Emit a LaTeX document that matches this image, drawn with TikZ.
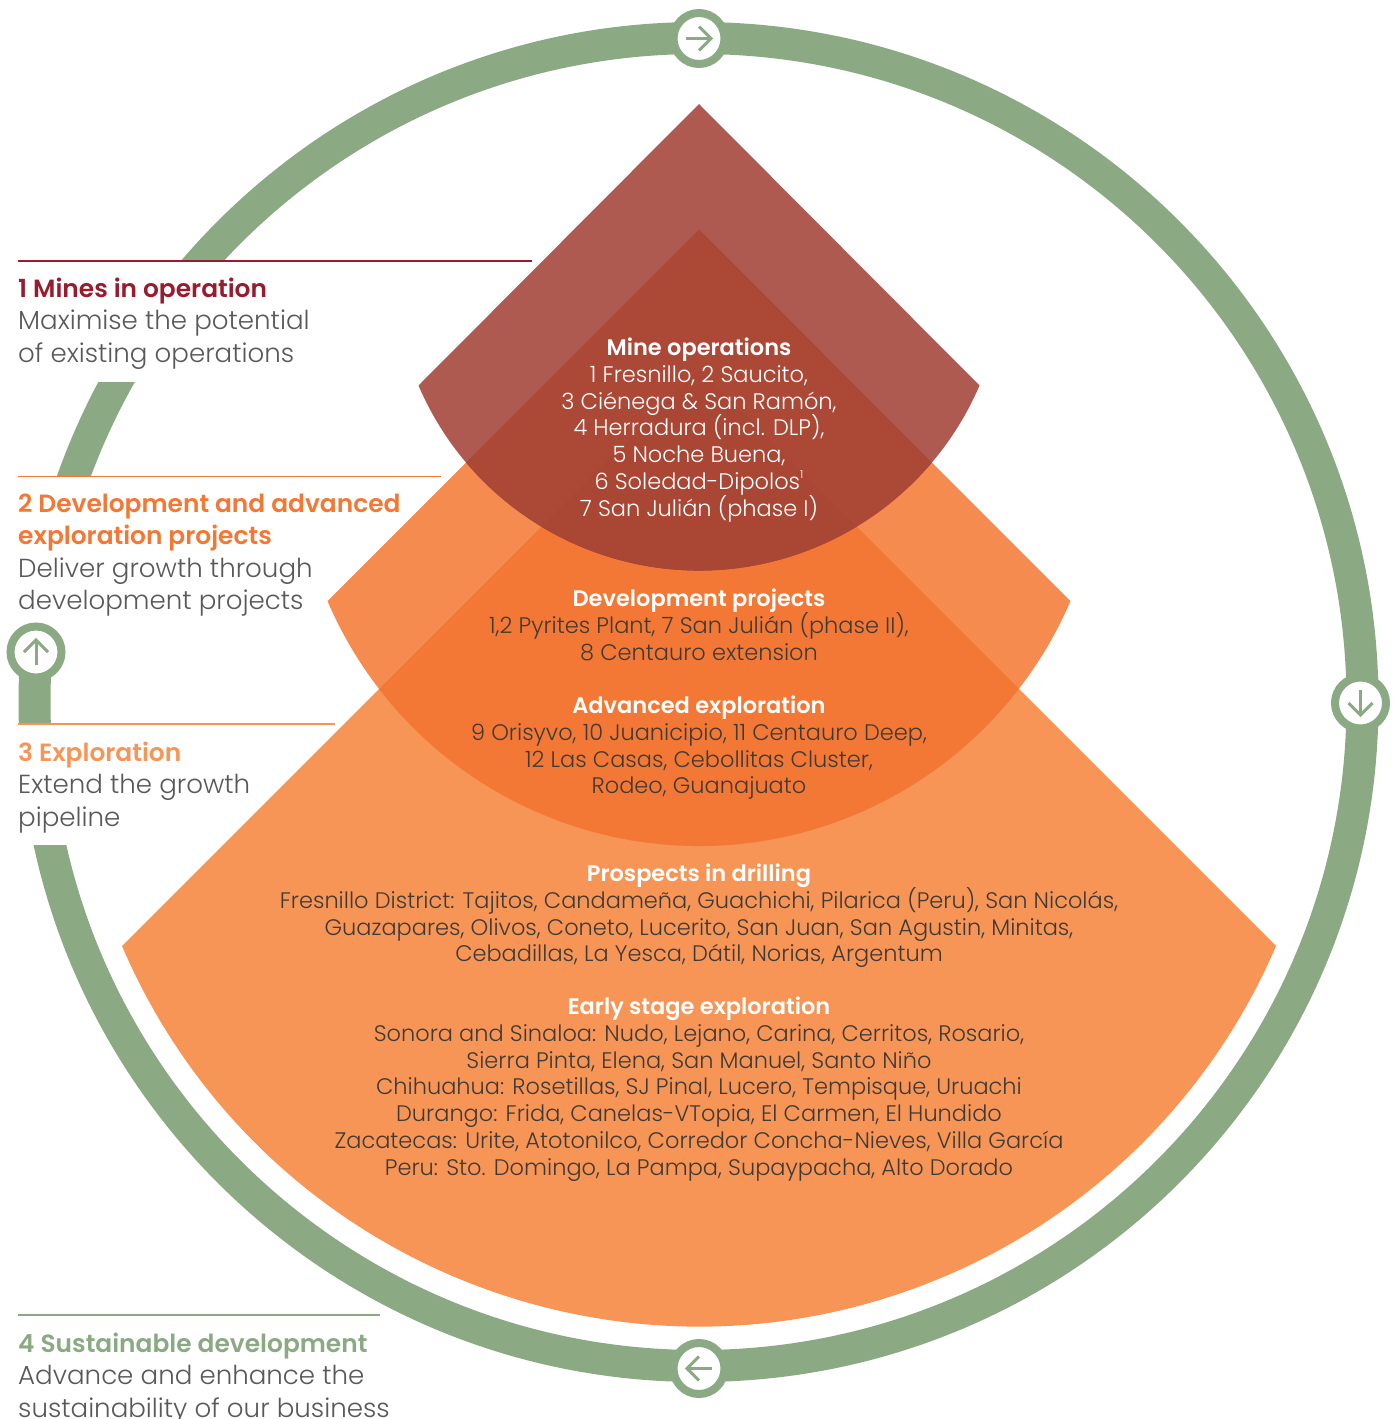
\documentclass[tikz,border=0pt]{standalone}
\usepackage{fontspec}
\setmainfont{Poppins}[UprightFont=* Light,BoldFont=* SemiBold]
\definecolor{ringgreen}{HTML}{8BAA84}
\definecolor{cA}{HTML}{AE5A51}
\definecolor{cAB}{HTML}{AB4836}
\definecolor{cABC}{HTML}{A94634}
\definecolor{cB}{HTML}{F68B50}
\definecolor{cBC}{HTML}{F47835}
\definecolor{cC}{HTML}{F79556}
\definecolor{titlered}{HTML}{981B2E}
\definecolor{bodygrey}{HTML}{58595B}
\definecolor{inkdark}{HTML}{3F3A36}
\newcommand\shapeA{(699,104) -- (418.5,385.5) arc[start angle=203.2,end angle=336.8,radius=305.2pt] -- cycle}
\newcommand\shapeB{(699,229.5) -- (327.5,601) arc[start angle=203.2,end angle=336.8,radius=404.2pt] -- cycle}
\newcommand\shapeC{(699,369) -- (122,946) arc[start angle=203.2,end angle=336.8,radius=627.8pt] -- cycle}
\newcommand\ringglyph[2]{\begin{scope}[shift={(#1)},rotate=#2]
\draw[glyphline] (-13,0) -- (12,0);
\draw[glyphline] (0,-12) -- (12,0) -- (0,12);
\end{scope}}
\newcommand\sidetitle[2]{\textcolor{#1}{\fontsize{24.9}{32.5}\selectfont\bfseries #2}}
\newcommand\tightlines{\lineskiplimit=-50pt\relax}
\newcommand\sidefont{\fontsize{26.1}{32.5}\selectfont\tightlines}
\newcommand\blockfont{\fontsize{22.48}{26.7}\selectfont\tightlines}
\tikzset{
  ringnode/.style={circle,draw=ringgreen,fill=white,line width=8pt,minimum size=51pt,inner sep=0pt},
  glyphline/.style={draw=ringgreen,line width=3pt},
  rulekey/.style={line width=1.8pt},
  masking/.style={fill=white,draw=none},
  sidetext/.style={anchor=north west,inner sep=0pt,align=left,text=bodygrey,font=\sidefont},
  blocktext/.style={anchor=north,inner sep=0pt,align=center,font=\blockfont},
}
\begin{document}
\begin{tikzpicture}[x=1pt,y=-1pt]
\useasboundingbox (0,0) rectangle (1397,1419);
\fill[white] (0,0) rectangle (1397,1419);
% ring
\draw[ringgreen,line width=32pt] (698.5,702) circle[radius=664pt];
\fill[masking] (0,261) rectangle (300,382);
\fill[masking] (0,476) rectangle (300,640);
\fill[masking] (0,724) rectangle (300,845);
% sectors
\fill[cC] \shapeC;
\fill[cB] \shapeB;
\begin{scope}\clip \shapeB; \fill[cBC] \shapeC; \end{scope}
\fill[cA] \shapeA;
\begin{scope}\clip \shapeA; \fill[cAB] \shapeB; \clip \shapeB; \fill[cABC] \shapeC; \end{scope}
% ring nodes
\node[ringnode] (ntop) at (699,38.5) {};
\node[ringnode] (nright) at (1360.5,703) {};
\node[ringnode] (nbottom) at (699,1368.5) {};
\node[ringnode] (nleft) at (36,652) {};
\ringglyph{ntop}{0}
\ringglyph{nright}{-90}
\ringglyph{nbottom}{180}
\ringglyph{nleft}{90}
% rules
\coordinate (a1) at (18,261); \coordinate (a2) at (532,261);
\coordinate (b1) at (18,476.5); \coordinate (b2) at (441,476.5);
\coordinate (c1) at (18,724); \coordinate (c2) at (335,724);
\coordinate (d1) at (18,1315); \coordinate (d2) at (380,1315);
\draw[rulekey,titlered] (a1) -- (a2);
\draw[rulekey,cBC] (b1) -- (b2);
\draw[rulekey,cC] (c1) -- (c2);
\draw[rulekey,ringgreen] (d1) -- (d2);
% side texts
\node[sidetext] (t1) at (18,277.5) {\sidetitle{titlered}{1 Mines in operation}\\Maximise the potential\\of existing operations};
\node[sidetext] (t2) at (18,493.5) {\sidetitle{cBC}{2 Development and advanced}\\\sidetitle{cBC}{exploration projects}\\Deliver growth through\\development projects};
\node[sidetext] (t3) at (18,741.5) {\sidetitle{cC}{3 Exploration}\\Extend the growth\\pipeline};
\node[sidetext] (t4) at (18,1332.5) {\sidetitle{ringgreen}{4 Sustainable development}\\Advance and enhance the\\sustainability of our business};
% block texts
\node[blocktext,text=white] (m1) at (699,338) {\textbf{Mine operations}\\1 Fresnillo, 2 Saucito,\\3 Ciénega \& San Ramón,\\4 Herradura (incl. DLP),\\5 Noche Buena,\\6 Soledad-Dipolos\raisebox{0.5em}{\fontsize{11}{11}\selectfont 1}\\7 San Julián (phase I)};
\node[blocktext,text=inkdark] (m2) at (699,589) {\textcolor{white}{\textbf{Development projects}}\\1,2 Pyrites Plant, 7 San Julián (phase II),\\8 Centauro extension};
\node[blocktext,text=inkdark] (m3) at (699,696) {\textcolor{white}{\textbf{Advanced exploration}}\\9 Orisyvo, 10 Juanicipio, 11 Centauro Deep,\\12 Las Casas, Cebollitas Cluster,\\Rodeo, Guanajuato};
\node[blocktext,text=inkdark] (m4) at (699,864) {\textcolor{white}{\textbf{Prospects in drilling}}\\Fresnillo District: Tajitos, Candameña, Guachichi, Pilarica (Peru), San Nicolás,\\Guazapares, Olivos, Coneto, Lucerito, San Juan, San Agustin, Minitas,\\Cebadillas, La Yesca, Dátil, Norias, Argentum};
\node[blocktext,text=inkdark] (m5) at (699,997) {\textcolor{white}{\textbf{Early stage exploration}}\\Sonora and Sinaloa: Nudo, Lejano, Carina, Cerritos, Rosario,\\Sierra Pinta, Elena, San Manuel, Santo Niño\\Chihuahua: Rosetillas, SJ Pinal, Lucero, Tempisque, Uruachi\\Durango: Frida, Canelas-VTopia, El Carmen, El Hundido\\Zacatecas: Urite, Atotonilco, Corredor Concha-Nieves, Villa García\\Peru: Sto. Domingo, La Pampa, Supaypacha, Alto Dorado};
\end{tikzpicture}
\end{document}
